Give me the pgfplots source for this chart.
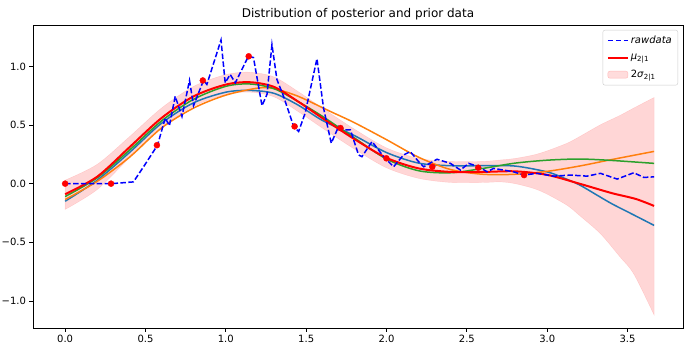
\documentclass[border=0pt]{standalone}
\usepackage{fontspec}
\setmainfont{DejaVu Sans}
\usepackage{pgfplots}
\pgfplotsset{compat=1.18}
\usepgfplotslibrary{fillbetween}
\definecolor{c0}{HTML}{1F77B4}
\definecolor{c1}{HTML}{FF7F0E}
\definecolor{c2}{HTML}{2CA02C}
\begin{document}
\begin{tikzpicture}
\begin{axis}[name=ax, scale only axis, width=650bp, height=303bp,
  xmin=-0.2, xmax=3.845, ymin=-1.231, ymax=1.353,
  xtick={0,0.5,1,1.5,2,2.5,3,3.5},
  xticklabels={0.0,0.5,1.0,1.5,2.0,2.5,3.0,3.5},
  ytick={-1,-0.5,0,0.5,1},
  yticklabels={−1.0,−0.5,0.0,0.5,1.0},
  xtick pos=left, ytick pos=left, tick align=outside,
  major tick length=3.5bp, tick style={black, line width=0.8bp},
  axis line style={black, line width=0.8bp},
  ticklabel style={font=\fontsize{10bp}{12bp}\selectfont},
  title={Distribution of posterior and prior data},
  title style={font=\fontsize{12bp}{14bp}\selectfont, yshift=-4.5bp},
  legend cell align=left,
  legend style={at={(1,1)}, anchor=north east, xshift=-5bp, yshift=-5bp,
    draw=black!20, rounded corners=2bp, fill=white, fill opacity=0.8, text opacity=1,
    font=\fontsize{10bp}{12bp}\selectfont, inner sep=4bp, row sep=5bp},
  legend image code/.code={\draw[#1] (0bp,0bp) -- (20bp,0bp);},
]
\addlegendimage{blue, line width=1.5bp, dash pattern=on 5.5bp off 2.4bp}
\addlegendentry{\textit{rawdata}}
\addlegendimage{red, line width=2bp}
\addlegendentry{\textit{μ}\textsubscript{2|1}}
\addlegendimage{legend image code/.code={\draw[fill=red!17, draw=red!28] (0bp,-3.5bp) rectangle (20bp,3.5bp);}}
\addlegendentry{2\textit{σ}\textsubscript{2|1}}

% band
\addplot[draw=none, smooth, name path=up, forget plot] table {
x y
0 0.03
0.2 0.165
0.4 0.40
0.6 0.645
0.8 0.83
1.0 0.93
1.15 0.95
1.3 0.91
1.45 0.785
1.6 0.645
1.8 0.465
2.0 0.305
2.2 0.215
2.4 0.19
2.6 0.19
2.709 0.202
2.8 0.215
2.916 0.245
3.0 0.28
3.124 0.345
3.2 0.40
3.331 0.502
3.45 0.58
3.539 0.645
3.665 0.735
};
\addplot[draw=none, smooth, name path=lo, forget plot] table {
x y
0 -0.22
0.2 -0.05
0.4 0.22
0.6 0.475
0.8 0.66
1.0 0.76
1.15 0.78
1.3 0.74
1.45 0.615
1.6 0.475
1.8 0.295
2.0 0.135
2.2 0.045
2.4 0.01
2.6 0.01
2.709 0.015
2.8 0.0
2.916 -0.041
3.0 -0.09
3.124 -0.185
3.2 -0.27
3.331 -0.427
3.45 -0.62
3.539 -0.771
3.665 -1.12
};
\addplot[fill=red, fill opacity=0.16, draw=red, draw opacity=0.12, forget plot] fill between[of=up and lo];

% samples
\addplot[c0, line width=1.5bp, smooth, forget plot] table {
x y
0 -0.15
0.2 0.03
0.4 0.265
0.6 0.515
0.8 0.69
1.0 0.78
1.15 0.795
1.3 0.77
1.45 0.67
1.6 0.54
1.8 0.41
2.0 0.265
2.2 0.175
2.4 0.153
2.6 0.153
2.8 0.15
3.0 0.10
3.1 0.05
3.2 -0.01
3.3 -0.09
3.4 -0.17
3.5 -0.24
3.6 -0.31
3.665 -0.356
};
\addplot[c1, line width=1.5bp, smooth, forget plot] table {
x y
0 -0.135
0.2 0.02
0.4 0.225
0.6 0.475
0.8 0.645
1.0 0.755
1.2 0.815
1.3 0.81
1.45 0.745
1.65 0.616
1.8 0.52
2.0 0.375
2.2 0.225
2.4 0.12
2.6 0.08
2.8 0.08
3.0 0.105
3.2 0.15
3.4 0.205
3.665 0.275
};
\addplot[c2, line width=1.5bp, smooth, forget plot] table {
x y
0 -0.11
0.2 0.05
0.4 0.285
0.6 0.535
0.8 0.72
1.0 0.83
1.15 0.85
1.3 0.81
1.45 0.70
1.6 0.575
1.8 0.39
2.0 0.21
2.2 0.11
2.4 0.093
2.6 0.13
2.8 0.175
3.0 0.20
3.2 0.21
3.4 0.198
3.665 0.173
};
% mean
\addplot[red, line width=2bp, smooth, forget plot] table {
x y
0 -0.09
0.2 0.06
0.4 0.31
0.6 0.56
0.8 0.745
1.0 0.845
1.15 0.865
1.3 0.825
1.45 0.70
1.6 0.56
1.8 0.38
2.0 0.22
2.2 0.13
2.4 0.10
2.6 0.10
2.8 0.105
3.0 0.075
3.2 0.0
3.4 -0.08
3.55 -0.13
3.665 -0.19
};
% raw data
\addplot[blue, line width=1.5bp, dash pattern=on 5.5bp off 2.4bp, forget plot] table {
x y
0 0
0.29 0
0.425 0.015
0.488 0.144
0.575 0.328
0.623 0.56
0.649 0.494
0.685 0.745
0.727 0.573
0.774 0.88
0.799 0.665
0.861 0.88
0.882 0.846
0.970 1.225
0.996 0.86
1.027 0.931
1.059 0.86
1.141 1.088
1.172 1.075
1.225 0.665
1.256 0.76
1.287 1.185
1.318 0.888
1.359 0.745
1.422 0.488
1.453 0.445
1.494 0.603
1.567 1.066
1.608 0.645
1.656 0.345
1.702 0.488
1.743 0.459
1.775 0.459
1.826 0.245
1.847 0.230
1.910 0.359
1.982 0.230
2.044 0.144
2.106 0.245
2.148 0.273
2.200 0.187
2.231 0.144
2.314 0.208
2.397 0.173
2.460 0.116
2.511 0.173
2.574 0.144
2.626 0.101
2.667 0.130
2.791 0.101
2.854 0.073
2.937 0.088
3.040 0.064
3.144 0.073
3.248 0.064
3.331 0.088
3.435 0.039
3.539 0.093
3.601 0.053
3.665 0.058
};
% observations
\addplot[only marks, mark=*, mark size=3bp, red, forget plot] table {
x y
0 0
0.2856 0
0.5712 0.328
0.8568 0.88
1.1424 1.086
1.428 0.488
1.7136 0.474
1.9992 0.216
2.2848 0.144
2.5704 0.136
2.856 0.073
};
\end{axis}
\pgfresetboundingbox
\path[use as bounding box] ([xshift=-33bp,yshift=-23bp]ax.south west) rectangle ([xshift=13bp,yshift=25bp]ax.north east);
\end{tikzpicture}
\end{document}
